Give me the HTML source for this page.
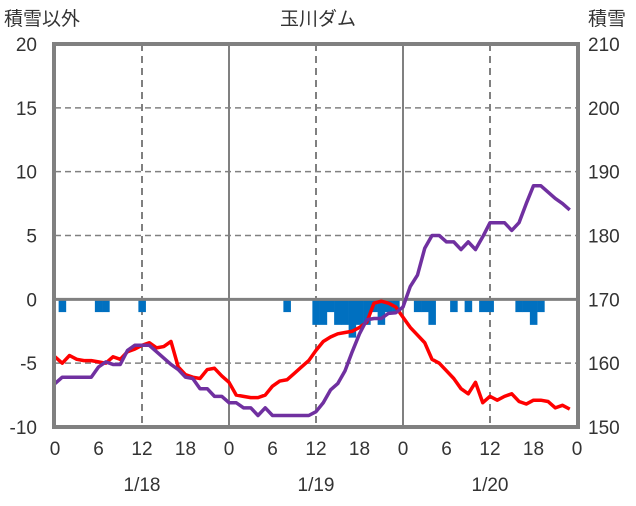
<!DOCTYPE html>
<html><head><meta charset="utf-8"><style>
body{margin:0;background:#fff}
svg text{font-family:"Liberation Sans","Noto Sans CJK JP",sans-serif;fill:#333}
</style></head><body>
<svg id="c" width="636" height="501"></svg>
<script>
const hours=[...Array(72).keys()];
const redVals=[-4.5,-5.0,-4.4,-4.7,-4.8,-4.8,-4.9,-5.0,-4.5,-4.7,-4.1,-3.9,-3.6,-3.4,-3.8,-3.7,-3.3,-5.3,-5.9,-6.1,-6.2,-5.5,-5.4,-6.0,-6.5,-7.5,-7.6,-7.7,-7.7,-7.5,-6.8,-6.4,-6.3,-5.8,-5.3,-4.8,-4.0,-3.3,-2.95,-2.7,-2.6,-2.5,-2.2,-1.8,-0.3,-0.15,-0.3,-0.6,-1.4,-2.2,-2.8,-3.4,-4.7,-5.0,-5.6,-6.2,-7.0,-7.4,-6.5,-8.1,-7.6,-7.9,-7.6,-7.4,-8.0,-8.2,-7.9,-7.9,-8.0,-8.5,-8.3,-8.6];
const purpleVals=[156.8,157.8,157.8,157.8,157.8,157.8,159.4,160.2,159.8,159.8,162,162.8,162.8,162.8,161.8,160.8,159.8,159,157.8,157.6,156,156,154.8,154.8,153.8,153.8,153,153,151.8,153,151.8,151.8,151.8,151.8,151.8,151.8,152.4,153.8,155.8,156.8,158.8,161.8,164.6,166.8,167,167,167.8,167.9,168.8,172,173.8,178,180,180,179,179,177.8,179,177.8,179.8,182,182,182,180.8,182,185,187.8,187.8,186.8,185.8,185,184];
const snowVals=[0,1,0,0,0,0,1,1,0,0,0,0,1,0,0,0,0,0,0,0,0,0,0,0,0,0,0,0,0,0,0,0,1,0,0,0,2,2,1,2,2,3,2,2,1,2,1,1,0,0,1,1,2,0,0,1,0,1,0,1,1,0,0,0,1,1,2,1,0,0,0,0];
const leftTicks=[20,15,10,5,0,-5,-10];
const rightTicks=[210,200,190,180,170,160,150];
const xTickLabels=[0,6,12,18,0,6,12,18,0,6,12,18,0];
const dateLabels=["1/18","1/19","1/20"];
const L=55,R=577,T=44,B=427;
const x=h=>L+(R-L)*h/72;
const y=v=>B-(B-T)*(v+10)/30;
const yr=v=>B-(B-T)*(v-150)/60;
const svg=document.getElementById('c');
const NS='http://www.w3.org/2000/svg';
function mk(t,a,p){const e=document.createElementNS(NS,t);for(const k in a)e.setAttribute(k,a[k]);(p||svg).appendChild(e);return e;}
[15,10,5,-5].forEach(v=>{const e=mk('line',{x1:L,x2:R,y1:y(v),y2:y(v),stroke:'#808080','stroke-width':1.5,'stroke-dasharray':'6,4'});

});
[12,36,60].forEach(h=>{const e=mk('line',{x1:x(h),x2:x(h),y1:T,y2:B,stroke:'#808080','stroke-width':2,'stroke-dasharray':'7,5'});

});
[24,48].forEach(h=>{const e=mk('line',{x1:x(h),x2:x(h),y1:T,y2:B,stroke:'#808080','stroke-width':2});

});
snowVals.forEach((v,i)=>{if(!v)return;const e=mk('rect',{x:x(i-0.5),y:y(0),width:x(1)-x(0)+0.3,height:y(-v)-y(0),fill:'#0070c0'});

});
const z=mk('line',{x1:L,x2:R,y1:y(0),y2:y(0),stroke:'#808080','stroke-width':3});


const rp=mk('polyline',{points:hours.map(h=>x(h)+','+y(redVals[h])).join(' '),fill:'none',stroke:'#ff0000','stroke-width':3.5,'stroke-linejoin':'round'});


const pp=mk('polyline',{points:hours.map(h=>x(h)+','+yr(purpleVals[h])).join(' '),fill:'none',stroke:'#7030a0','stroke-width':3.5,'stroke-linejoin':'round'});


const fr=mk('rect',{x:L-1,y:T,width:R-L+2,height:B-T,fill:'none',stroke:'#808080','stroke-width':4});


leftTicks.forEach(v=>{const e=mk('text',{x:37,y:y(v)+7,'text-anchor':'end','font-size':19});e.textContent=v;

});
rightTicks.forEach(v=>{const e=mk('text',{x:588,y:yr(v)+7,'font-size':19});e.textContent=v;

});
xTickLabels.forEach((v,i)=>{const e=mk('text',{x:x(i*6),y:455,'text-anchor':'middle','font-size':19});e.textContent=v;

});
dateLabels.forEach((v,i)=>{const e=mk('text',{x:x(12+24*i),y:491,'text-anchor':'middle','font-size':19});e.textContent=v;

});
const t1=mk('text',{x:318,y:25,'text-anchor':'middle','font-size':19});t1.textContent='玉川ダム';


const t2=mk('text',{x:4,y:25,'font-size':19});t2.textContent='積雪以外';


const t3=mk('text',{x:588,y:25,'font-size':19});t3.textContent='積雪';


</script>
</body></html>
